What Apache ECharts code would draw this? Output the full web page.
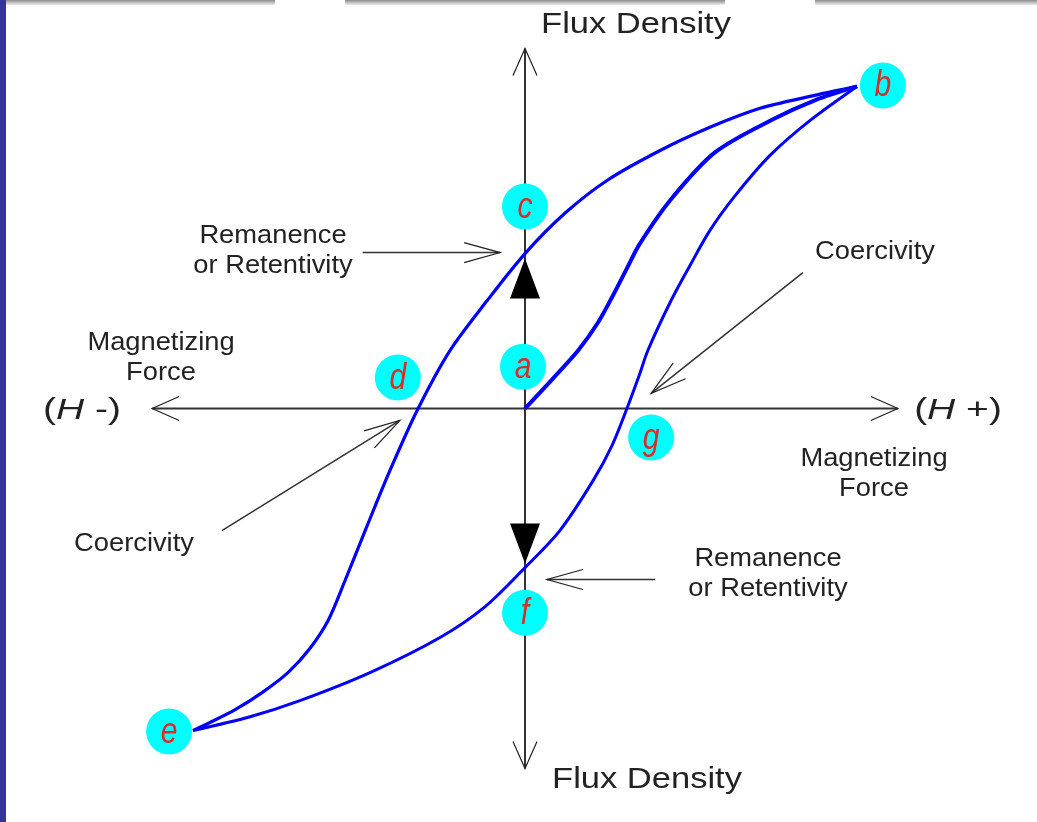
<!DOCTYPE html>
<html lang="en">
<head>
    <meta charset="UTF-8">
    <title>Hysteresis loop</title>
    <style>
      html, body { margin: 0; padding: 0; background: #fff; }
      #chart { width: 1037px; height: 822px; }
    </style>
</head>
<body>
    <div id="chart"></div>

    <script src="https://cdn.jsdelivr.net/npm/echarts@6/dist/echarts.min.js"></script>
    <script type="text/javascript">
      // H (magnetizing force) and B (flux density), normalised so that b = (1, 1)
      // a -> b
      var initialCurve = [
        [0, 0], [0.084, 0.093], [0.160, 0.180], [0.220, 0.267], [0.265, 0.351],
        [0.307, 0.435], [0.346, 0.512], [0.437, 0.646], [0.572, 0.795], [0.747, 0.898],
        [0.873, 0.957], [1, 1]
      ];
      // b -> c -> d -> e
      var upperBranch = [
        [1, 1], [0.858, 0.969], [0.708, 0.932], [0.557, 0.873], [0.407, 0.801],
        [0.247, 0.708], [0.120, 0.606], [0, 0.481], [-0.114, 0.335], [-0.226, 0.180],
        [-0.322, 0], [-0.407, -0.193], [-0.479, -0.373], [-0.542, -0.534], [-0.593, -0.658],
        [-0.648, -0.745], [-0.714, -0.820], [-0.792, -0.882], [-0.873, -0.935], [-0.949, -0.975],
        [-1, -1]
      ];
      // e -> f -> g -> b
      var lowerBranch = [
        [-1, -1], [-0.828, -0.957], [-0.678, -0.907], [-0.467, -0.820], [-0.256, -0.711],
        [-0.120, -0.615], [0, -0.494], [0.105, -0.379], [0.205, -0.224], [0.262, -0.115],
        [0.307, 0], [0.346, 0.109], [0.370, 0.180], [0.437, 0.329], [0.497, 0.444],
        [0.557, 0.553], [0.633, 0.661], [0.738, 0.786], [0.858, 0.894], [1, 1]
      ];
      // lettered points [H, B, letter]
      var markers = [
        [-0.006, 0.130, 'a'], [1.078, 1.003, 'b'], [0, 0.627, 'c'], [-0.383, 0.096, 'd'],
        [-1.072, -1.003, 'e'], [0, -0.634, 'f'], [0.380, -0.090, 'g']
      ];
      // direction triangles on the B axis [H, B, rotation]
      var directions = [[0, 0.404, 0], [0, -0.419, 180]];
      // axis arrows [H1, B1, H2, B2]
      var axisArrows = [
        [0, 0, 1.123, 0], [0, 0, -1.123, 0], [0, 0, 0, 1.118], [0, 0, 0, -1.118]
      ];
      // annotation pointers [H1, B1, H2, B2]
      var pointers = [
        [-0.489, 0.484, -0.075, 0.484],
        [0.392, -0.531, 0.066, -0.531],
        [0.837, 0.422, 0.380, 0.047],
        [-0.913, -0.379, -0.377, -0.037]
      ];

      var myChart = echarts.init(document.getElementById('chart'));

      function arrowRenderer(width, headLen, headHalf) {
        return function (params, api) {
          var p1 = api.coord([api.value(0), api.value(1)]);
          var p2 = api.coord([api.value(2), api.value(3)]);
          var dx = p2[0] - p1[0], dy = p2[1] - p1[1];
          var d = Math.sqrt(dx * dx + dy * dy);
          var ux = dx / d, uy = dy / d;
          var bx = p2[0] - ux * headLen, by = p2[1] - uy * headLen;
          var nx = -uy, ny = ux;
          return {
            type: 'group',
            children: [
              {
                type: 'line',
                shape: { x1: p1[0], y1: p1[1], x2: p2[0], y2: p2[1] },
                style: { stroke: '#333', lineWidth: width }
              },
              {
                type: 'polyline',
                shape: { points: [[bx + nx * headHalf, by + ny * headHalf], [p2[0], p2[1]], [bx - nx * headHalf, by - ny * headHalf]] },
                style: { stroke: '#222', fill: null, lineWidth: 1.2 }
              }
            ]
          };
        };
      }

      function label(text, x, y, size, sx) {
        return {
          type: 'text', x: x, y: y, scaleX: sx || 1, z: 10,
          style: {
            text: text, fill: '#222', font: size + 'px "Liberation Sans", Arial, sans-serif',
            textAlign: 'center', textVerticalAlign: 'middle', lineHeight: 30
          }
        };
      }

      function hLabel(sign, x) {
        return {
          type: 'text', x: x, y: 411, scaleX: 1.3, z: 10,
          style: {
            text: '{n|(}{i|H}{n| ' + sign + ')}',
            textAlign: 'center', textVerticalAlign: 'middle',
            rich: {
              n: { fill: '#222', font: '30px "Liberation Sans", Arial, sans-serif' },
              i: { fill: '#222', font: 'italic 30px "Liberation Sans", Arial, sans-serif' }
            }
          }
        };
      }

      var topBar = new echarts.graphic.LinearGradient(0, 0, 0, 1, [
        { offset: 0, color: '#8c8c8c' }, { offset: 1, color: '#eeeeee' }
      ]);

      var option = {
        animation: false,
        backgroundColor: '#fff',
        grid: { left: 27, right: 14, top: 22, bottom: 27 },
        xAxis: { type: 'value', min: -1.5, max: 1.5, show: false },
        yAxis: { type: 'value', min: -1.2, max: 1.2, show: false },
        graphic: [
          { type: 'rect', shape: { x: 0, y: 0, width: 6, height: 822 }, style: { fill: '#363399' }, z: 20 },
          { type: 'rect', shape: { x: 0, y: 0, width: 275, height: 5 }, style: { fill: topBar }, z: 19 },
          { type: 'rect', shape: { x: 345, y: 0, width: 380, height: 5 }, style: { fill: topBar }, z: 19 },
          { type: 'rect', shape: { x: 815, y: 0, width: 222, height: 5 }, style: { fill: topBar }, z: 19 },
          label('Flux Density', 636, 25, 30, 1.15),
          label('Flux Density', 647, 780, 30, 1.15),
          hLabel('-', 82),
          hLabel('+', 958),
          label('Magnetizing\nForce', 161, 358, 26, 1.05),
          label('Magnetizing\nForce', 874, 474, 26, 1.05),
          label('Remanence\nor Retentivity', 273, 251, 26, 1.05),
          label('Remanence\nor Retentivity', 768, 574, 26, 1.05),
          label('Coercivity', 875, 252, 26, 1.05),
          label('Coercivity', 134, 544, 26, 1.05)
        ],
        series: [
          {
            type: 'custom', name: 'axes', data: axisArrows, z: 1,
            renderItem: arrowRenderer(2, 27, 12)
          },
          {
            type: 'custom', name: 'pointers', data: pointers, z: 1,
            renderItem: arrowRenderer(1.5, 36, 10)
          },
          {
            type: 'line', name: 'initial', data: initialCurve, smooth: 0.3, showSymbol: false, z: 3,
            lineStyle: { color: '#0000ff', width: 4 }
          },
          {
            type: 'line', name: 'upper', data: upperBranch, smooth: 0.3, showSymbol: false, z: 3,
            lineStyle: { color: '#0000ff', width: 3.2 }
          },
          {
            type: 'line', name: 'lower', data: lowerBranch, smooth: 0.3, showSymbol: false, z: 3,
            lineStyle: { color: '#0000ff', width: 3 }
          },
          {
            type: 'scatter', name: 'direction', data: directions, z: 4,
            symbol: 'triangle', symbolSize: [30, 40],
            symbolRotate: function (v) { return v[2]; },
            itemStyle: { color: '#000', opacity: 1 }
          },
          {
            type: 'custom', name: 'points', data: markers, z: 5,
            renderItem: function (params, api) {
              var p = api.coord([api.value(0), api.value(1)]);
              return {
                type: 'group',
                children: [
                  { type: 'circle', shape: { cx: p[0], cy: p[1], r: 23 }, style: { fill: '#00ffff' } },
                  {
                    type: 'text', x: p[0], y: p[1] + 1, scaleY: 1.2,
                    style: {
                      text: markers[params.dataIndex][2], fill: '#dc2b2b',
                      font: 'italic 30px "Liberation Sans", Arial, sans-serif',
                      textAlign: 'center', textVerticalAlign: 'middle'
                    }
                  }
                ]
              };
            }
          }
        ]
      };
      myChart.setOption(option);
    </script>
</body>
</html>
